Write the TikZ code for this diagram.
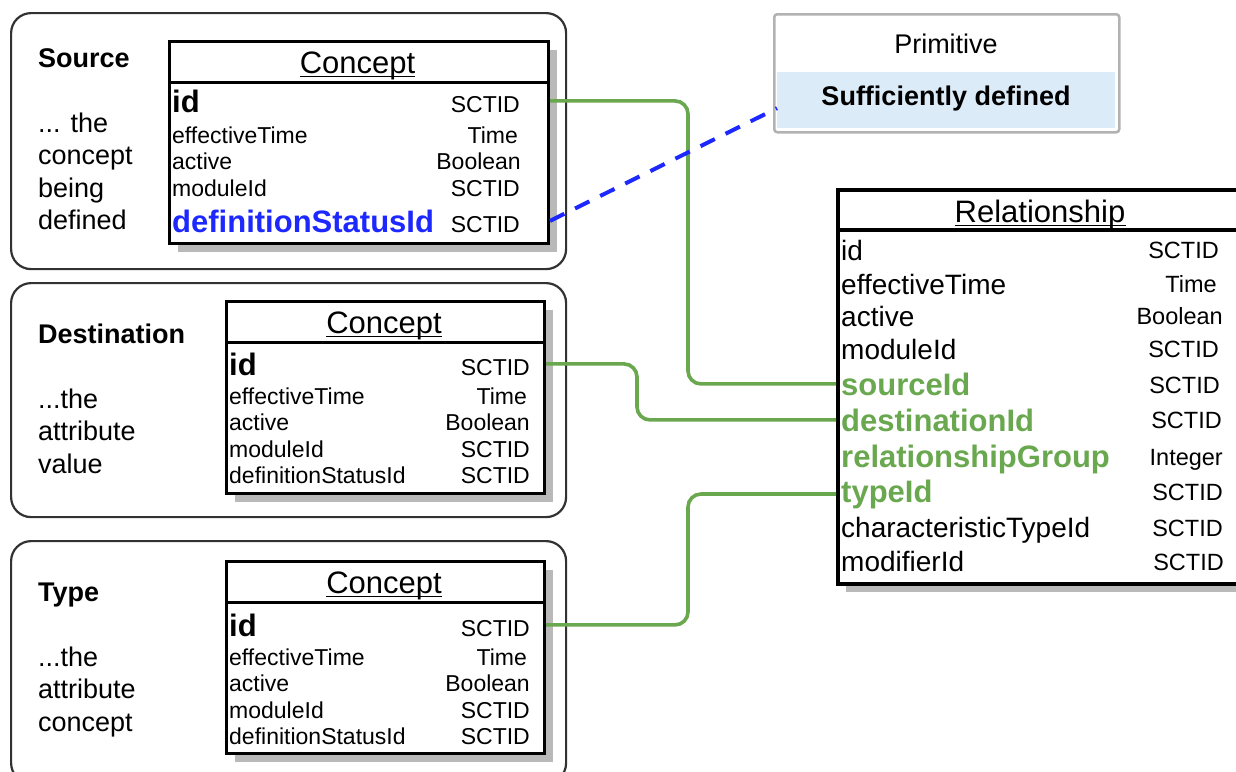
\documentclass[tikz,border=0pt]{standalone}
\usepackage{fontspec}
\setmainfont{Liberation Sans}
\usetikzlibrary{shadows}
\definecolor{grn}{RGB}{106,168,79}
\definecolor{blu}{RGB}{28,40,255}
\definecolor{shd}{RGB}{185,185,185}
\definecolor{pblue}{RGB}{220,235,248}
\definecolor{pgray}{RGB}{178,178,178}
\definecolor{obox}{RGB}{50,50,50}
\newcommand\myfs[1]{\fontsize{#1}{#1}\selectfont}
\begin{document}
\begin{tikzpicture}[x=1pt,y=-1pt,
  outerbox/.style={draw=obox, line width=2.2pt, rounded corners=20pt, anchor=north west, inner sep=0},
  tbl/.style={draw=black, line width=3pt, fill=white, anchor=north west, inner sep=0,
    drop shadow={shadow xshift=8pt, shadow yshift=-8pt, fill=shd, opacity=1}},
  hline/.style={line width=3pt},
  fld/.style={anchor=base west, inner sep=0, font=\myfs{23}},
  fldb/.style={anchor=base west, inner sep=0, font=\myfs{31}\bfseries},
  typ/.style={anchor=base east, inner sep=0, font=\myfs{23}},
  rfld/.style={anchor=base west, inner sep=0, font=\myfs{28}},
  rfldg/.style={anchor=base west, inner sep=0, font=\myfs{31}\bfseries, text=grn},
  rtyp/.style={anchor=base east, inner sep=0, font=\myfs{23.5}},
  hdr/.style={anchor=base, inner sep=0, font=\myfs{31}},
  uline/.style={line width=1.6pt},
  lbl/.style={anchor=base west, inner sep=0, font=\myfs{27}},
  lblb/.style={anchor=base west, inner sep=0, font=\myfs{27}\bfseries},
  conn/.style={draw=grn, line width=3.6pt, rounded corners=13pt},
  dconn/.style={draw=blu, line width=4pt, dash pattern=on 16pt off 12pt},
  primbox/.style={draw=pgray, line width=2.5pt, rounded corners=3pt, anchor=north west, inner sep=0},
  primtxt/.style={inner sep=0, font=\myfs{27}}
]
\useasboundingbox (0,0) rectangle (1236,771);
\clip (0,0) rectangle (1236,771);

% ---------- outer boxes ----------
\node[outerbox, minimum width=555, minimum height=256] (srcout) at (10,12) {};
\node[outerbox, minimum width=555, minimum height=234] (dstout) at (10,282) {};
\node[outerbox, minimum width=555, minimum height=242] (typout) at (10,540) {};

% ---------- left labels ----------
\node[lblb] (srclab) at (38,67) {Source};
\node[lbl] (srcl1) at (38,132) {... the};
\node[lbl] (srcl2) at (38,164.5) {concept};
\node[lbl] (srcl3) at (38,197) {being};
\node[lbl] (srcl4) at (38,229.5) {defined};

\node[lblb] (dstlab) at (38,343) {Destination};
\node[lbl] (dstl1) at (38,408) {...the};
\node[lbl] (dstl2) at (38,440.5) {attribute};
\node[lbl] (dstl3) at (38,473) {value};

\node[lblb] (typlab) at (38,601) {Type};
\node[lbl] (typl1) at (38,666) {...the};
\node[lbl] (typl2) at (38,698.5) {attribute};
\node[lbl] (typl3) at (38,731) {concept};

% ---------- Source concept ----------
\node[tbl, minimum width=379, minimum height=202] (srcbox) at (168,40) {};
\draw[hline] ([yshift=-42pt]srcbox.north west) -- ([yshift=-42pt]srcbox.north east);
\node[hdr] (srch) at (357.5,73) {Concept};
\draw[uline] ([yshift=-3.5pt]srch.base west) -- ([yshift=-3.5pt]srch.base east);
\node[fldb] (srcid) at (172,112) {id};
\node[typ] (srcidt) at (520,112) {SCTID};
\node[fld] (srceff) at (172,143) {effectiveTime};
\node[typ] (srcefft) at (518,143) {Time};
\node[fld] (srcact) at (172,169.5) {active};
\node[typ] (srcactt) at (521,169.5) {Boolean};
\node[fld] (srcmod) at (172,196) {moduleId};
\node[typ] (srcmodt) at (520,196) {SCTID};
\node[fldb, text=blu] (srcdef) at (172,232) {definitionStatusId};
\node[typ] (srcdeft) at (520,232) {SCTID};

% ---------- Destination concept ----------
\node[tbl, minimum width=318, minimum height=192] (dstbox) at (225,300) {};
\draw[hline] ([yshift=-42pt]dstbox.north west) -- ([yshift=-42pt]dstbox.north east);
\node[hdr] (dsth) at (384,333) {Concept};
\draw[uline] ([yshift=-3.5pt]dsth.base west) -- ([yshift=-3.5pt]dsth.base east);
\node[fldb] (dstid) at (229,375) {id};
\node[typ] (dstidt) at (530,375) {SCTID};
\node[fld] (dsteff) at (229,404) {effectiveTime};
\node[typ] (dstefft) at (527,404) {Time};
\node[fld] (dstact) at (229,430.5) {active};
\node[typ] (dstactt) at (530,430.5) {Boolean};
\node[fld] (dstmod) at (229,457) {moduleId};
\node[typ] (dstmodt) at (530,457) {SCTID};
\node[fld] (dstdef) at (229,483.5) {definitionStatusId};
\node[typ] (dstdeft) at (530,483.5) {SCTID};

% ---------- Type concept ----------
\node[tbl, minimum width=318, minimum height=192] (typbox) at (225,560) {};
\draw[hline] ([yshift=-42pt]typbox.north west) -- ([yshift=-42pt]typbox.north east);
\node[hdr] (typh) at (384,593) {Concept};
\draw[uline] ([yshift=-3.5pt]typh.base west) -- ([yshift=-3.5pt]typh.base east);
\node[fldb] (typid) at (229,636) {id};
\node[typ] (typidt) at (530,636) {SCTID};
\node[fld] (typeff) at (229,665) {effectiveTime};
\node[typ] (typefft) at (527,665) {Time};
\node[fld] (typact) at (229,691.5) {active};
\node[typ] (typactt) at (530,691.5) {Boolean};
\node[fld] (typmod) at (229,718) {moduleId};
\node[typ] (typmodt) at (530,718) {SCTID};
\node[fld] (typdef) at (229,744.5) {definitionStatusId};
\node[typ] (typdeft) at (530,744.5) {SCTID};

% ---------- Relationship ----------
\node[tbl, line width=3.5pt, minimum width=418, minimum height=394] (relbox) at (836,188) {};
\draw[line width=3.5pt] ([yshift=-42pt]relbox.north west) -- ([yshift=-42pt]relbox.north east);
\node[hdr] (relh) at (1040,222) {Relationship};
\draw[uline] ([yshift=-3.5pt]relh.base west) -- ([yshift=-3.5pt]relh.base east);
\node[rfld] (relid) at (841,260) {id};
\node[rtyp] (relidt) at (1219,258.5) {SCTID};
\node[rfld] (releff) at (841,294) {effectiveTime};
\node[rtyp] (relefft) at (1217,292.5) {Time};
\node[rfld] (relact) at (841,326) {active};
\node[rtyp] (relactt) at (1223,324.5) {Boolean};
\node[rfld] (relmod) at (841,359) {moduleId};
\node[rtyp] (relmodt) at (1219,357.5) {SCTID};
\node[rfldg] (relsrc) at (841,395) {sourceId};
\node[rtyp] (relsrct) at (1220,393) {SCTID};
\node[rfldg] (reldst) at (841,431) {destinationId};
\node[rtyp] (reldstt) at (1222,428.5) {SCTID};
\node[rfldg] (relgrp) at (841,467) {relationshipGroup};
\node[rtyp] (relgrpt) at (1223,465) {Integer};
\node[rfldg] (reltyp) at (841,502) {typeId};
\node[rtyp] (reltypt) at (1223,500.5) {SCTID};
\node[rfld] (relchr) at (841,537) {characteristicTypeId};
\node[rtyp] (relchrt) at (1223,536) {SCTID};
\node[rfld] (relmdf) at (841,571) {modifierId};
\node[rtyp] (relmdft) at (1224,570) {SCTID};

% ---------- Primitive / Sufficiently defined ----------
\node[fill=pblue, anchor=north west, inner sep=0, minimum width=338, minimum height=56] (suff) at (777,72) {};
\node[primtxt, font=\myfs{27}\bfseries] (sufftxt) at (946,99) {Sufficiently defined};
\node[primtxt] (primtxt) at (946,44) {Primitive};
\node[primbox, minimum width=345, minimum height=118] (prim) at (773,13) {};

% ---------- connectors ----------
\coordinate (v1) at (688,0);
\coordinate (v2) at (637,0);
\coordinate (a1) at (srcbox.east |- srcid);
\coordinate (a2) at (dstbox.east |- dstid);
\coordinate (a3) at (typbox.east |- typid);
\coordinate (a4) at (srcbox.east |- srcdef);
\coordinate (b4) at ([yshift=-8pt]suff.west);
\draw[conn] (a1) -- (a1 -| v1) |- (relbox.west |- relsrc);
\draw[conn] (a2) -- (a2 -| v2) |- (relbox.west |- reldst);
\draw[conn] (a3) -- (a3 -| v1) |- (relbox.west |- reltyp);
\draw[dconn] (a4) -- (b4);
\end{tikzpicture}
\end{document}
